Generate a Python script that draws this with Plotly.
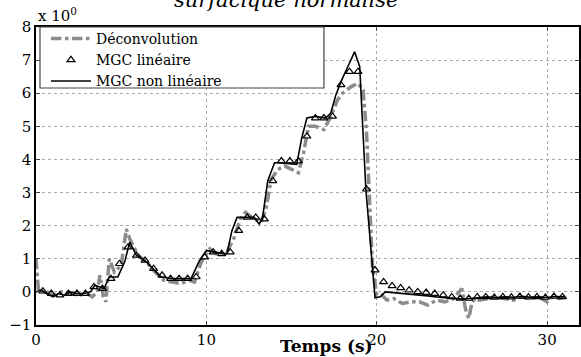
import plotly.graph_objects as go

# ---------------- data ----------------
t_dec = [0.0, 0.05, 0.15, 0.5, 1.0, 1.5, 2.0, 2.5, 3.0, 3.3, 3.6, 3.75, 3.95, 4.1, 4.3, 4.6, 5.0, 5.3, 5.5,
         6.0, 6.5, 7.0, 7.5, 8.0, 8.5, 9.0, 9.3, 9.7, 10.2, 10.7, 11.2, 11.6, 12.0, 12.3, 12.8, 13.2,
         13.5, 13.8, 14.2, 14.6, 15.0, 15.4, 15.7, 16.0, 16.4, 16.9, 17.3, 17.7, 18.0, 18.5, 18.9,
         19.2, 19.4, 19.55, 19.75, 20.0, 20.3, 20.6, 21.0, 21.5, 22.0, 22.5, 23.0, 23.5, 24.0, 24.5,
         25.0, 25.2, 25.4, 25.6, 25.8, 26.0, 26.5, 27.0, 27.5, 28.0, 28.5, 29.0, 29.5, 30.0, 30.3,
         30.7, 31.1]
v_dec = [1.0, 0.6, 0.0, 0.05, -0.1, 0.0, -0.05, -0.1, -0.05, -0.15, 0.0, 0.5, -0.15, -0.3, 1.0, 0.6, 0.8, 1.9, 1.6,
         1.1, 0.9, 0.6, 0.35, 0.3, 0.25, 0.35, 0.3, 0.9, 1.3, 1.1, 1.2, 1.6, 2.2, 2.4, 2.2, 2.1,
         2.5, 3.4, 3.7, 3.8, 3.7, 3.6, 4.2, 5.0, 5.0, 4.9, 5.3, 5.8, 6.0, 6.2, 6.3,
         6.1, 4.8, 2.8, 0.75, -0.1, -0.1, -0.25, -0.2, -0.35, -0.3, -0.3, -0.4, -0.25, -0.3, -0.2,
         0.1, -0.5, -0.8, -0.3, -0.2, -0.25, -0.2, -0.15, -0.2, -0.25, -0.15, -0.2, -0.15, -0.3, -0.15,
         -0.2, -0.15]

t_lin = [0.4, 0.9, 1.4, 1.9, 2.4, 2.9, 3.4, 3.9, 4.4, 4.9, 5.4, 5.9, 6.4, 6.9, 7.4, 7.9, 8.4, 8.9,
         9.4, 9.9, 10.4, 10.9, 11.4, 11.9, 12.4, 12.9, 13.4, 13.9, 14.4, 14.9, 15.4, 15.9, 16.4,
         16.9, 17.4, 17.9, 18.4, 18.9, 19.4, 19.9, 20.4, 20.9, 21.4, 21.9, 22.4, 22.9, 23.4, 23.9,
         24.4, 24.9, 25.4, 25.9, 26.4, 26.9, 27.4, 27.9, 28.4, 28.9, 29.4, 29.9, 30.4, 30.9]
v_lin = [0.02, -0.05, -0.1, -0.05, -0.05, -0.05, 0.15, 0.1, 0.4, 0.85, 1.35, 1.1, 0.95, 0.7, 0.5,
         0.4, 0.4, 0.4, 0.45, 1.05, 1.2, 1.15, 1.2, 1.85, 2.25, 2.25, 2.2, 3.35, 3.95, 3.95, 3.95,
         4.7, 5.25, 5.25, 5.3, 6.25, 6.65, 6.65, 3.1, 0.66, 0.3, 0.18, 0.12, 0.05, 0.0, -0.02,
         -0.05, -0.1, -0.15, -0.2, -0.2, -0.15, -0.15, -0.17, -0.15, -0.16, -0.14, -0.16, -0.15,
         -0.17, -0.14, -0.15]

t_nl = [0.0, 0.3, 0.6, 1.0, 1.3, 1.7, 2.0, 2.4, 2.8, 3.2, 3.45, 3.8, 4.0, 4.3, 4.8, 5.2, 5.5, 5.9,
        6.5, 6.95, 7.35, 8.0, 8.5, 9.1, 9.6, 10.0, 10.5, 11.2, 11.5, 11.8, 12.8, 13.1, 13.3, 13.6,
        14.0, 14.3, 15.3, 15.6, 15.9, 16.4, 17.0, 17.3, 17.6, 17.9, 18.3, 18.7, 19.0, 19.36, 19.9,
        20.2, 20.5, 21.0, 21.5, 22.0, 22.5, 23.0, 23.5, 24.0, 24.5, 25.0, 25.5, 26.0, 26.5, 27.0,
        27.5, 28.0, 28.5, 29.0, 29.5, 30.0, 30.5, 31.0]
v_nl = [0.0, 0.05, -0.05, -0.15, -0.05, -0.1, 0.0, -0.05, -0.05, 0.0, 0.2, 0.15, 0.1, 0.45, 0.45,
        0.9, 1.5, 1.1, 0.9, 0.65, 0.45, 0.4, 0.4, 0.4, 0.95, 1.25, 1.2, 1.15, 1.85, 2.25, 2.25,
        2.05, 2.25, 3.35, 3.9, 3.9, 3.85, 4.65, 5.25, 5.3, 5.25, 5.4, 5.95, 6.35, 6.8, 7.25, 6.8,
        3.1, -0.18, -0.15, 0.0, -0.02, -0.05, -0.08, -0.1, -0.12, -0.15, -0.18, -0.2, -0.22, -0.2,
        -0.18, -0.15, -0.18, -0.15, -0.16, -0.14, -0.16, -0.15, -0.17, -0.14, -0.15]

x_ticks = [0, 10, 20, 30]
y_ticks = [-1, 0, 1, 2, 3, 4, 5, 6, 7, 8]
names = ["Déconvolution", "MGC linéaire", "MGC non linéaire"]

FONT = "DejaVu Serif"

fig = go.Figure()
fig.add_trace(go.Scatter(x=t_dec, y=v_dec, mode="lines", name=names[0],
                         line=dict(color="#8c8c8c", width=3.5, dash="dashdot")))
fig.add_trace(go.Scatter(x=t_lin, y=v_lin, mode="markers", name=names[1],
                         marker=dict(symbol="triangle-up-open", size=7, color="black",
                                     line=dict(width=1.2, color="black"))))
fig.add_trace(go.Scatter(x=t_nl, y=v_nl, mode="lines", name=names[2],
                         line=dict(color="black", width=1.6)))

W, H = 581, 357
L, R, T, B = 36, 0, 27, 32
pw, ph = W - L - R, H - T - B

def px_x(p):
    return (p - L) / pw

def px_y(p):
    return 1 - (p - T) / ph

# legend box
fig.add_shape(type="rect", xref="paper", yref="paper",
              x0=px_x(40), x1=px_x(325), y0=px_y(88), y1=px_y(27),
              fillcolor="white", line=dict(color="#444", width=1.2), layer="above")

fig.add_annotation(xref="paper", yref="paper", x=px_x(36), y=px_y(27), xanchor="left", yanchor="bottom",
                   text="x 10<sup>0</sup>", showarrow=False, font=dict(family=FONT, size=15, color="black"))
fig.add_annotation(xref="paper", yref="paper", x=px_x(287), y=px_y(14), xanchor="center", yanchor="bottom",
                   text="<i>surfacique normalisé</i>", showarrow=False,
                   font=dict(family=FONT, size=21, color="black"))
fig.add_annotation(xref="paper", yref="paper", x=px_x(328), y=px_y(358), xanchor="center", yanchor="bottom",
                   text="<b>Temps (s)</b>", showarrow=False,
                   font=dict(family=FONT, size=17, color="black"))

fig.update_layout(
    width=W, height=H,
    margin=dict(l=L, r=R, t=T, b=B),
    paper_bgcolor="white", plot_bgcolor="white",
    font=dict(family=FONT, size=14, color="black"),
    showlegend=True,
    legend=dict(x=px_x(46), y=px_y(23), xanchor="left", yanchor="top",
                bgcolor="rgba(0,0,0,0)", borderwidth=0,
                font=dict(family=FONT, size=14, color="black"),
                tracegroupgap=0, itemwidth=40),
)
fig.update_xaxes(range=[0, 31.87], tickvals=x_ticks, ticks="inside", ticklen=4,
                 showline=True, linecolor="black", linewidth=1.5, mirror="ticks",
                 showgrid=True, gridcolor="#aaa", griddash="dot", gridwidth=1, zeroline=False,
                 tickfont=dict(family=FONT, size=15))
fig.update_yaxes(range=[-1, 8], tickvals=y_ticks, ticks="inside", ticklen=4,
                 showline=True, linecolor="black", linewidth=1.5, mirror="ticks",
                 showgrid=True, gridcolor="#aaa", griddash="dot", gridwidth=1, zeroline=False,
                 tickfont=dict(family=FONT, size=15))

fig.write_html("out.html")
